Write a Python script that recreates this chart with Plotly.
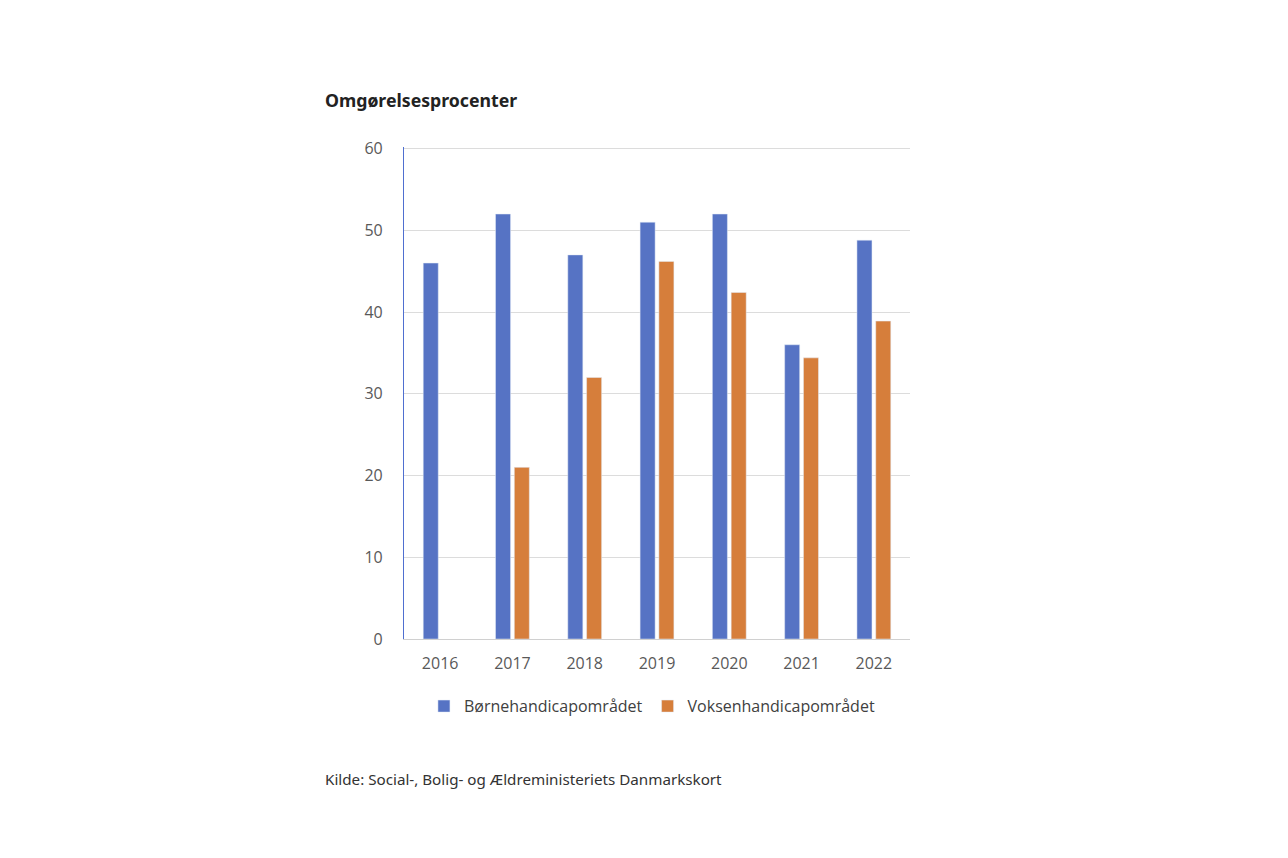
import plotly.graph_objects as go

years = ["2016", "2017", "2018", "2019", "2020", "2021", "2022"]
boern = [46, 52, 47, 51, 52, 36, 48.8]
voksen = [None, 21, 32, 46.2, 42.4, 34.4, 38.9]
y_ticks = [0, 10, 20, 30, 40, 50, 60]

fig = go.Figure()
fig.add_bar(x=years, y=boern, name="Børnehandicapområdet", marker_color="#5673C4")
fig.add_bar(x=years, y=voksen, name="Voksenhandicapområdet", marker_color="#D67E3B")

fig.update_layout(
    width=1288, height=858,
    paper_bgcolor="white", plot_bgcolor="white",
    margin=dict(l=396, r=386, t=139, b=227),
    barmode="group", bargap=0.48, bargroupgap=0.2,
    font=dict(family="Open Sans", color="#595959", size=15),
    showlegend=True,
    legend=dict(orientation="h", x=0.49, xanchor="center", y=-0.102, yanchor="top",
                font=dict(size=16, color="#404040"), traceorder="normal",
                itemwidth=30),
    annotations=[
        dict(text="<b>Omgørelsesprocenter</b>", xref="paper", yref="paper",
             x=-0.16, y=1.096, xanchor="left", yanchor="middle", showarrow=False,
             font=dict(family="Noto Sans", size=17.7, color="#222222")),
        dict(text="Kilde: Social-, Bolig- og Ældreministeriets Danmarkskort", xref="paper", yref="paper",
             x=-0.16, y=-0.285, xanchor="left", yanchor="middle", showarrow=False,
             font=dict(family="Noto Sans", size=15.2, color="#333333")),
    ],
)
fig.update_yaxes(range=[0, 60.2], tickvals=y_ticks, showgrid=True, gridcolor="#DCDCDC",
                 showline=True, linecolor="#4F6FD0", linewidth=1.2, zeroline=False,
                 ticks="", ticklabelstandoff=17, tickfont=dict(size=16))
fig.update_xaxes(showline=True, linecolor="#D0D0D0", linewidth=1, ticks="",
                 ticklabelstandoff=10, tickfont=dict(size=16))

fig.write_html("out.html")
